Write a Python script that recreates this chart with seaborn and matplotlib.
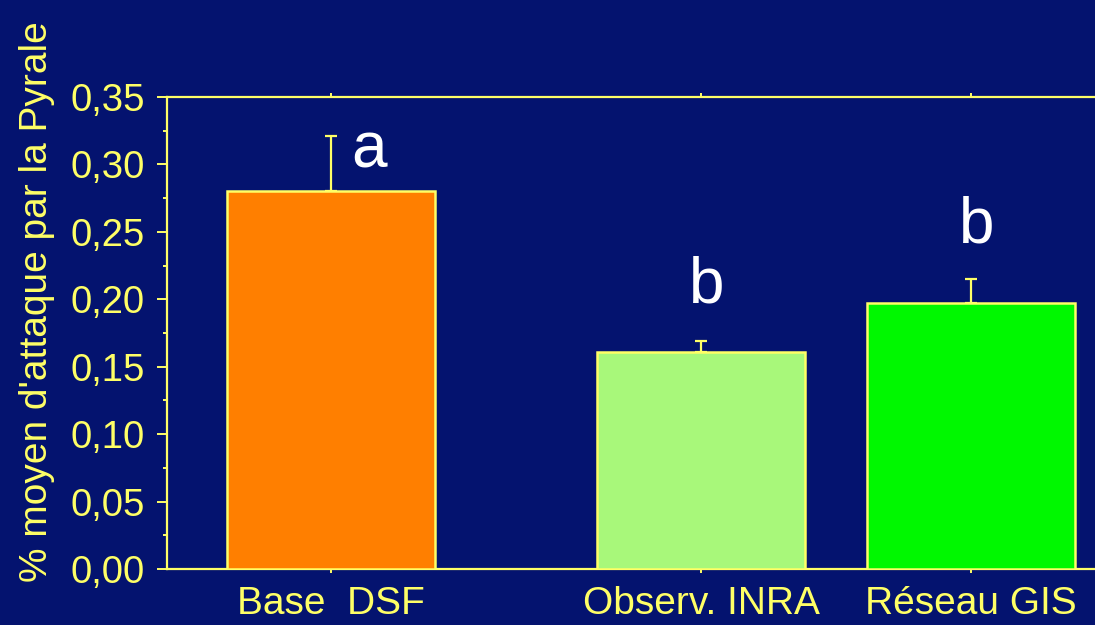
import matplotlib
matplotlib.use("Agg")
import matplotlib.pyplot as plt
import seaborn as sns
import pandas as pd
from matplotlib.ticker import MultipleLocator, FixedLocator, FixedFormatter

# Data
categories = ["Base  DSF", "Observ. INRA", "Réseau GIS"]
means = [0.28, 0.161, 0.197]
errors = [0.041, 0.008, 0.018]
letters = ["a", "b", "b"]
bar_colors = ["#ff7f00", "#a8f87a", "#00f800"]
ytick_values = [0.00, 0.05, 0.10, 0.15, 0.20, 0.25, 0.30, 0.35]
ytick_labels = ["0,00", "0,05", "0,10", "0,15", "0,20", "0,25", "0,30", "0,35"]

# Layout (bar centres on a numeric axis, letter heights)
positions = [1.0, 2.37, 3.37]
letter_y = [0.31, 0.21, 0.255]
letter_dx = [0.14, 0.02, 0.02]

BG = "#04136f"
YELLOW = "#ffff66"

sns.set_theme(style="white")
plt.rcParams["font.family"] = ["Liberation Sans", "DejaVu Sans"]

df = pd.DataFrame({"pos": positions, "mean": means, "cat": categories})

fig = plt.figure(figsize=(10.95, 6.25), dpi=100, facecolor=BG)
ax = fig.add_axes([167 / 1095, 56 / 625, (1095 - 167) / 1095, (569 - 97) / 625])
ax.set_facecolor(BG)

sns.barplot(data=df, x="pos", y="mean", hue="cat", palette=bar_colors,
            native_scale=True, width=0.767, errorbar=None, legend=False,
            saturation=1, edgecolor=YELLOW, linewidth=1.8, ax=ax, zorder=3)

# Upper error bars only
ax.errorbar(positions, means, yerr=[[0] * 3, errors], fmt="none",
            ecolor=YELLOW, elinewidth=1.6, capsize=4.5, capthick=1.6, zorder=2)

for x, y, t, dx in zip(positions, letter_y, letters, letter_dx):
    ax.text(x + dx, y, t, color="white", fontsize=46, ha="center", va="center")

ax.set_xlim(0.393, 3.829)
ax.set_ylim(0, 0.35)

ax.xaxis.set_major_locator(FixedLocator(positions))
ax.xaxis.set_major_formatter(FixedFormatter(categories))
ax.yaxis.set_major_locator(FixedLocator(ytick_values))
ax.yaxis.set_major_formatter(FixedFormatter(ytick_labels))
ax.yaxis.set_minor_locator(MultipleLocator(0.025))

for side in ["left", "bottom", "top"]:
    ax.spines[side].set_visible(True)
    ax.spines[side].set_color(YELLOW)
    ax.spines[side].set_linewidth(1.6)
ax.spines["right"].set_visible(False)

ax.tick_params(axis="y", which="major", direction="out", length=7, width=1.4,
               color=YELLOW, labelcolor=YELLOW, labelsize=27.5, pad=9, left=True)
ax.tick_params(axis="y", which="minor", direction="out", length=3, width=1.4,
               color=YELLOW, left=True)
ax.tick_params(axis="x", which="major", direction="out", length=3, width=1.4,
               color=YELLOW, labelcolor=YELLOW, labelsize=28, pad=9,
               bottom=True, top=True)

ax.set_xlabel("")
ax.set_ylabel("% moyen d'attaque par la Pyrale", color=YELLOW, fontsize=28)
ax.yaxis.set_label_coords(-0.121, 0.567)

fig.savefig("out.png", dpi=100, facecolor=BG)
